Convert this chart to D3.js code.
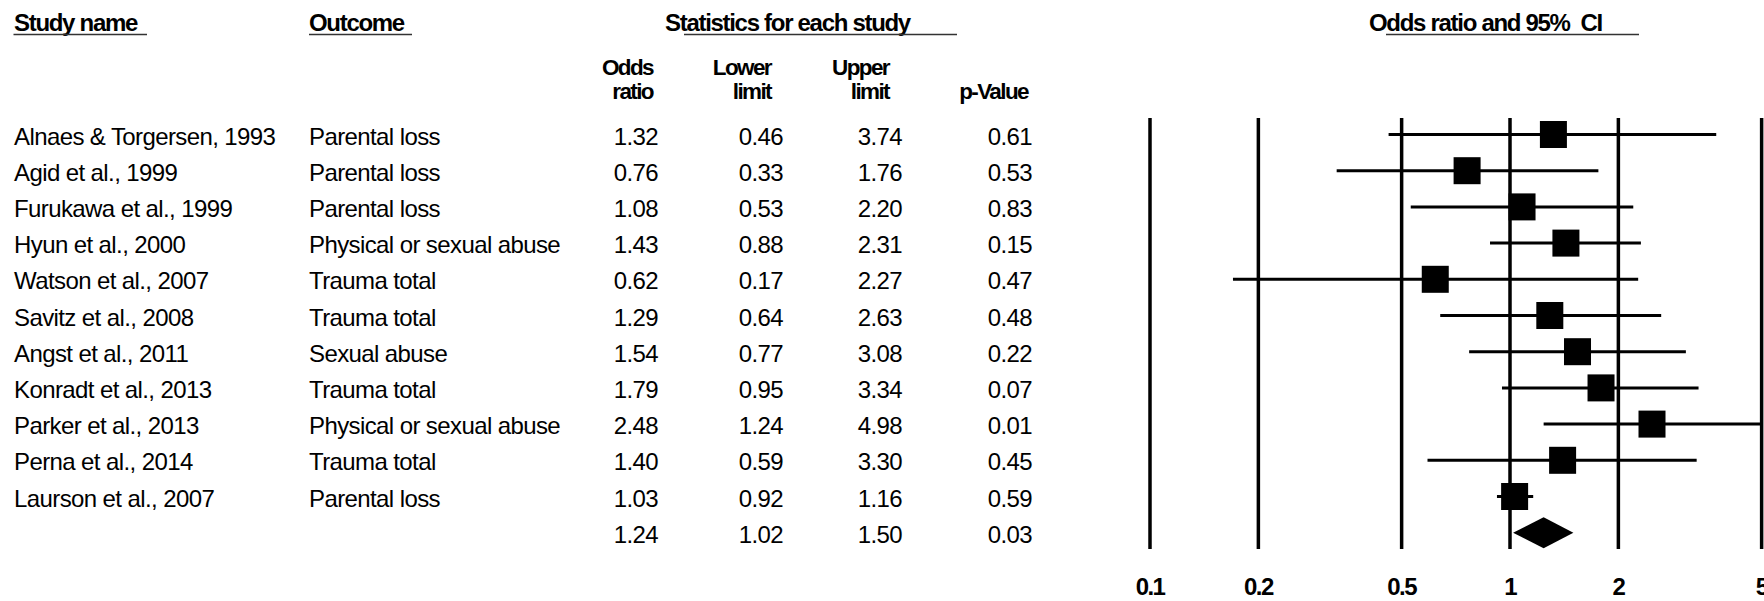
<!DOCTYPE html>
<html><head><meta charset="utf-8">
<script src="https://cdn.jsdelivr.net/npm/d3@7"></script>
<style>
html,body{margin:0;padding:0;background:#fff;}
svg{display:block;}
text{font-family:"Liberation Sans",Arial,sans-serif;fill:#000;}
.hd{font-weight:bold;font-size:24px;letter-spacing:-1.3px;white-space:pre;}
.ch{font-weight:bold;font-size:22.5px;letter-spacing:-1.6px;}
.bd{font-size:24px;letter-spacing:-0.6px;}
.ax{font-weight:bold;font-size:24px;letter-spacing:-1.6px;}
</style></head>
<body>
<svg id="chart" width="1764" height="601"></svg>
<script>
const studies = ["Alnaes & Torgersen, 1993","Agid et al., 1999","Furukawa et al., 1999","Hyun et al., 2000","Watson et al., 2007","Savitz et al., 2008","Angst et al., 2011","Konradt et al., 2013","Parker et al., 2013","Perna et al., 2014","Laurson et al., 2007"];
const outcomes = ["Parental loss","Parental loss","Parental loss","Physical or sexual abuse","Trauma total","Trauma total","Sexual abuse","Trauma total","Physical or sexual abuse","Trauma total","Parental loss"];
const oddsRatio = [1.32,0.76,1.08,1.43,0.62,1.29,1.54,1.79,2.48,1.40,1.03];
const lowerLimit = [0.46,0.33,0.53,0.88,0.17,0.64,0.77,0.95,1.24,0.59,0.92];
const upperLimit = [3.74,1.76,2.20,2.31,2.27,2.63,3.08,3.34,4.98,3.30,1.16];
const pValue = ["0.61","0.53","0.83","0.15","0.47","0.48","0.22","0.07","0.01","0.45","0.59"];
const summaryStats = [1.24,1.02,1.50];
const summaryP = "0.03";
const tickValues = [0.1,0.2,0.5,1,2,5];
const tickLabels = ["0.1","0.2","0.5","1","2","5"];

const svg = d3.select("#chart");
const x = d3.scaleLog().domain([0.1,10]).range([1150,1870]);
const y = d3.scaleLinear().domain([0,11]).range([134.5,532.7]);
const fmt = d3.format(".2f");

// headers
const headers = [
  {t:"Study name", x:14, ux:[13.5,147]},
  {t:"Outcome", x:309, ux:[309,412]},
  {t:"Statistics for each study", x:665, ux:[684,957]},
  {t:"Odds ratio and 95%  CI", x:1369, ux:[1386,1639]}
];
headers.forEach(h=>{
  svg.append("text").attr("class","hd").attr("x",h.x).attr("y",31).text(h.t);
  svg.append("line").attr("x1",h.ux[0]).attr("x2",h.ux[1]).attr("y1",34.5).attr("y2",34.5)
    .attr("stroke","#333").attr("stroke-width",1.6);
});
const colHead = [
  {l1:"Odds", l2:"ratio", x:653},
  {l1:"Lower", l2:"limit", x:771},
  {l1:"Upper", l2:"limit", x:889},
  {l1:"", l2:"p-Value", x:1028}
];
colHead.forEach(c=>{
  if(c.l1) svg.append("text").attr("class","ch").attr("x",c.x).attr("y",75).attr("text-anchor","end").text(c.l1);
  svg.append("text").attr("class","ch").attr("x",c.x).attr("y",99).attr("text-anchor","end").text(c.l2);
});

// table rows
const rows = studies.map((s,i)=>({s, o:outcomes[i], or:oddsRatio[i], lo:lowerLimit[i], hi:upperLimit[i], p:pValue[i], i}));
const g = svg.append("g");
const off = 10;
rows.forEach(r=>{
  const yy = y(r.i)+off;
  g.append("text").attr("class","bd").attr("x",14).attr("y",yy).text(r.s);
  g.append("text").attr("class","bd").attr("x",309).attr("y",yy).text(r.o);
  g.append("text").attr("class","bd").attr("x",658).attr("y",yy).attr("text-anchor","end").text(fmt(r.or));
  g.append("text").attr("class","bd").attr("x",783).attr("y",yy).attr("text-anchor","end").text(fmt(r.lo));
  g.append("text").attr("class","bd").attr("x",902).attr("y",yy).attr("text-anchor","end").text(fmt(r.hi));
  g.append("text").attr("class","bd").attr("x",1032).attr("y",yy).attr("text-anchor","end").text(r.p);
});
const sy = y(11)+off;
[[658,fmt(summaryStats[0])],[783,fmt(summaryStats[1])],[902,fmt(summaryStats[2])],[1032,summaryP]].forEach(d=>{
  g.append("text").attr("class","bd").attr("x",d[0]).attr("y",sy).attr("text-anchor","end").text(d[1]);
});

// grid lines at ticks
svg.append("g").selectAll("line").data(tickValues).join("line")
  .attr("x1",d=>x(d)).attr("x2",d=>x(d)).attr("y1",118).attr("y2",549)
  .attr("stroke","#000").attr("stroke-width",3.5);
svg.append("g").selectAll("text").data(tickValues).join("text")
  .attr("class","ax").attr("x",d=>x(d)).attr("y",595).attr("text-anchor","middle")
  .text((d,i)=>tickLabels[i]);

// CI lines
svg.append("g").selectAll("line").data(rows).join("line")
  .attr("x1",d=>x(d.lo)).attr("x2",d=>x(d.hi)).attr("y1",d=>y(d.i)).attr("y2",d=>y(d.i))
  .attr("stroke","#000").attr("stroke-width",3);
const sq = 27;
svg.append("g").selectAll("rect").data(rows).join("rect")
  .attr("x",d=>x(d.or)-sq/2).attr("y",d=>y(d.i)-sq/2).attr("width",sq).attr("height",sq)
  .attr("fill","#000");

// summary diamond
const dy = y(11), dh = 15.5;
svg.append("path")
  .attr("d",`M${x(summaryStats[1])},${dy} L${x(summaryStats[0])},${dy-dh} L${x(summaryStats[2])},${dy} L${x(summaryStats[0])},${dy+dh} Z`)
  .attr("fill","#000");
</script>
</body></html>
